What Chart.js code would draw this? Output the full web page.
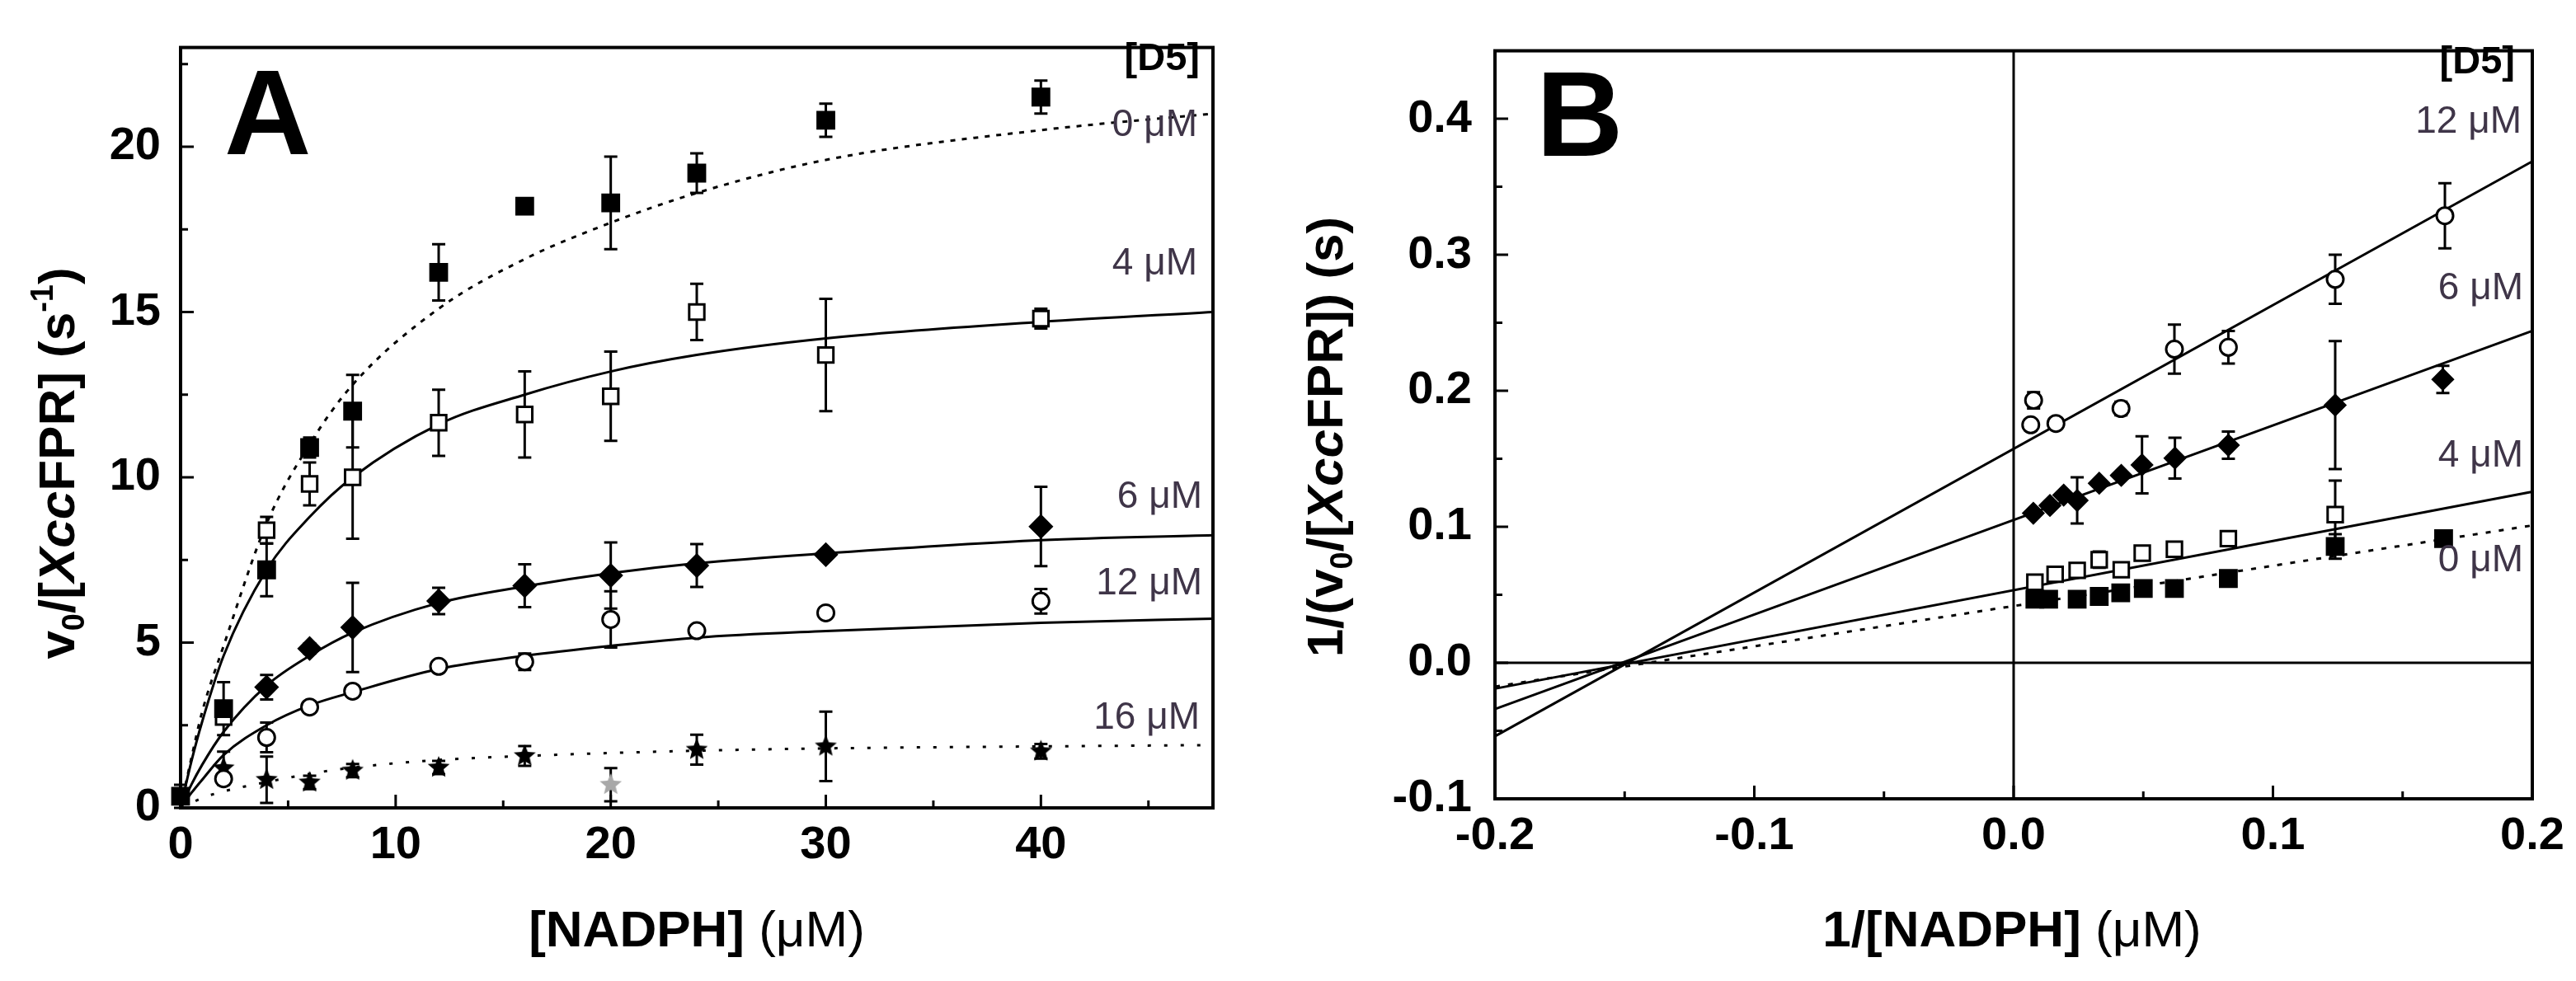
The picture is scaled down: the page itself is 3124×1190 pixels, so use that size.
<!DOCTYPE html>
<html><head><meta charset="utf-8">
<script src="https://cdn.jsdelivr.net/npm/chart.js@4.4.1/dist/chart.umd.min.js"></script>
<style>
html,body{margin:0;padding:0;background:#fff;}
#wrap{position:relative;width:3124px;height:1190px;overflow:hidden;background:#fff;}
canvas{position:absolute;top:0;}
#cA{left:0;} #cB{left:1540px;}
</style></head><body>
<div id="wrap"><canvas id="cA" width="1540" height="1190"></canvas><canvas id="cB" width="1584" height="1190"></canvas></div>
<script>
// ================= DATA =================
const seriesLabels = ['0 μM', '4 μM', '6 μM', '12 μM', '16 μM'];

// ---- Panel A : v0/[XccFPR] vs [NADPH] ----
const A_x0  = [0, 2, 4, 6, 8, 12, 16, 20, 24, 30, 40];
const A_y0  = [0.35, 3.0, 7.2, 10.9, 12.0, 16.2, 18.2, 18.3, 19.2, 20.8, 21.5];
const A_e0  = [0.35, 0.8, 0.8, 0.3, 1.1, 0.85, 0.15, 1.4, 0.6, 0.5, 0.5];

const A_x4  = [2, 4, 6, 8, 12, 16, 20, 24, 30, 40];
const A_y4  = [2.75, 8.4, 9.8, 10.0, 11.65, 11.9, 12.45, 15.0, 13.7, 14.8];
const A_e4  = [0.15, 0.4, 0.65, 1.86, 1.0, 1.3, 1.35, 0.85, 1.7, 0.3];

const A_x6  = [4, 6, 8, 12, 16, 20, 24, 30, 40];
const A_y6  = [3.65, 4.82, 5.46, 6.26, 6.72, 7.03, 7.33, 7.66, 8.51];
const A_e6  = [0.37, 0.15, 1.35, 0.4, 0.65, 1.0, 0.65, 0.12, 1.2];

const A_x12 = [2, 4, 6, 8, 12, 16, 20, 24, 30, 40];
const A_y12 = [0.88, 2.13, 3.05, 3.53, 4.28, 4.42, 5.7, 5.36, 5.9, 6.25];
const A_e12 = [0.12, 0.45, 0.12, 0.12, 0.15, 0.25, 0.85, 0.15, 0.12, 0.37];

const A_x16 = [2, 4, 6, 8, 12, 16, 24, 30, 40];
const A_y16 = [1.2, 0.85, 0.77, 1.13, 1.22, 1.57, 1.76, 1.86, 1.71];
const A_e16 = [0.5, 0.7, 0.2, 0.2, 0.2, 0.3, 0.45, 1.05, 0.22];

const A_x16grey = [20];
const A_y16grey = [0.7];
const A_e16grey = [0.5];

// fitted curves
const A_fitX   = [0, 0.5, 1, 2, 4, 6, 8, 12, 16, 20, 24, 30, 40, 48];
const A_fit0   = [0, 1.5, 2.9, 4.9, 8.6, 11.0, 12.8, 15.1, 16.6, 17.7, 18.6, 19.6, 20.5, 21.0];
const A_fit4   = [0, 1.4, 2.6, 4.6, 7.2, 8.8, 10.0, 11.6, 12.5, 13.2, 13.7, 14.2, 14.7, 15.0];
const A_fit6   = [0, 0.7, 1.3, 2.3, 3.7, 4.6, 5.3, 6.2, 6.7, 7.1, 7.4, 7.7, 8.1, 8.25];
const A_fit12  = [0, 0.45, 0.85, 1.6, 2.5, 3.1, 3.5, 4.2, 4.6, 4.9, 5.15, 5.35, 5.6, 5.72];
const A_fit16  = [0, 0.15, 0.3, 0.5, 0.78, 1.03, 1.22, 1.45, 1.57, 1.66, 1.73, 1.8, 1.86, 1.9];

// ---- Panel B : double reciprocal ----
const B_x0  = [0.0082, 0.0135, 0.0245, 0.033, 0.0413, 0.05, 0.062, 0.0828, 0.124, 0.1658];
const B_y0  = [0.0467, 0.0467, 0.0467, 0.0488, 0.0515, 0.0546, 0.0546, 0.062, 0.0855, 0.0913];
const B_e0  = [0.002, 0.002, 0.002, 0.002, 0.002, 0.002, 0.003, 0.003, 0.009, 0.002];

const B_x4  = [0.0082, 0.016, 0.0245, 0.033, 0.0415, 0.0496, 0.062, 0.0828, 0.124];
const B_y4  = [0.0593, 0.0651, 0.068, 0.0758, 0.0684, 0.0806, 0.0835, 0.0913, 0.109];
const B_e4  = [0.003, 0.002, 0.003, 0.006, 0.003, 0.003, 0.004, 0.003, 0.025];

const B_x6  = [0.0076, 0.014, 0.0193, 0.0245, 0.033, 0.0415, 0.0495, 0.0622, 0.0828, 0.124, 0.1655];
const B_y6  = [0.110, 0.1157, 0.1233, 0.1194, 0.132, 0.1378, 0.1455, 0.1505, 0.160, 0.1895, 0.2084];
const B_e6  = [0.002, 0.002, 0.002, 0.017, 0.002, 0.002, 0.021, 0.015, 0.010, 0.047, 0.010];

const B_x12 = [0.0066, 0.0077, 0.0163, 0.0414, 0.062, 0.0828, 0.124, 0.1663];
const B_y12 = [0.175, 0.193, 0.176, 0.187, 0.2306, 0.232, 0.282, 0.3287];
const B_e12 = [0.004, 0.006, 0.003, 0.005, 0.018, 0.012, 0.018, 0.024];

const B_fitX  = [-0.2, 0.2];
const B_fit0  = [-0.0175, 0.101];
const B_fit4  = [-0.019, 0.1258];
const B_fit6  = [-0.034, 0.244];
const B_fit12 = [-0.054, 0.3687];

// axis ranges / ticks
const A_xRange = [0, 48], A_xStep = 10;
const A_yRange = [0, 23], A_yStep = 5;
const B_xRange = [-0.2, 0.2], B_xStep = 0.1;
const B_yRange = [-0.1, 0.45], B_yStep = 0.1;

// ================= HELPERS =================
const FAM = '"Liberation Sans", Arial, Helvetica, sans-serif';
const pts = (xs, ys) => xs.map((x, i) => ({x, y: ys[i]}));

function makeStar(color, r) {
  const s = Math.ceil(r * 2) + 2;
  const c = document.createElement('canvas'); c.width = c.height = s;
  const g = c.getContext('2d'); g.fillStyle = color; g.beginPath();
  for (let i = 0; i < 10; i++) {
    const rr = i % 2 ? r * 0.45 : r;
    const a = -Math.PI / 2 + i * Math.PI / 5;
    g.lineTo(s / 2 + rr * Math.cos(a), s / 2 + rr * Math.sin(a));
  }
  g.closePath(); g.fill();
  return c;
}
const starBlack = makeStar('#000', 14);
const starGrey = makeStar('#a8a8a8', 14);

function markerDS(label, xs, ys, errs, style, fill, radius, extra) {
  return Object.assign({
    label, data: pts(xs, ys), errors: errs, showLine: false,
    pointStyle: style, pointRadius: radius, pointHoverRadius: radius,
    pointBackgroundColor: fill, pointBorderColor: '#000', pointBorderWidth: 3,
    clip: false, errColor: '#000'
  }, extra || {});
}
function lineDS(label, xs, ys, dash, curve) {
  return {
    label: label + ' fit', data: pts(xs, ys), showLine: true, pointRadius: 0,
    borderColor: '#000', borderWidth: 3, borderDash: dash || [],
    cubicInterpolationMode: curve ? 'monotone' : 'default', tension: 0, clip: false
  };
}

const errorBars = {
  id: 'errorBars',
  beforeDatasetsDraw(chart) {
    const {ctx, scales: {y}} = chart;
    ctx.save();
    ctx.lineWidth = 3;
    chart.data.datasets.forEach((ds, i) => {
      if (!ds.errors) return;
      const meta = chart.getDatasetMeta(i);
      ctx.strokeStyle = ds.errColor || '#000';
      meta.data.forEach((el, j) => {
        const v = ds.data[j].y, e = ds.errors[j];
        if (!e) return;
        const yt = y.getPixelForValue(v + e), yb = y.getPixelForValue(v - e);
        const x = el.x, w = 8;
        ctx.beginPath();
        ctx.moveTo(x, yt); ctx.lineTo(x, yb);
        ctx.moveTo(x - w, yt); ctx.lineTo(x + w, yt);
        ctx.moveTo(x - w, yb); ctx.lineTo(x + w, yb);
        ctx.stroke();
      });
    });
    ctx.restore();
  }
};

function frameTicks(zeroLines) {
  return {
    id: 'frameTicks',
    beforeDatasetsDraw(chart) {
      if (!zeroLines) return;
      const {ctx, chartArea: a, scales: {x, y}} = chart;
      ctx.save(); ctx.strokeStyle = '#000'; ctx.lineWidth = 3;
      const x0 = x.getPixelForValue(0), y0 = y.getPixelForValue(0);
      ctx.beginPath();
      ctx.moveTo(x0, a.top); ctx.lineTo(x0, a.bottom);
      ctx.moveTo(a.left, y0); ctx.lineTo(a.right, y0);
      ctx.stroke(); ctx.restore();
    },
    afterDatasetsDraw(chart) {
      const {ctx, chartArea: a, scales: {x, y}} = chart;
      ctx.save(); ctx.strokeStyle = '#000';
      ctx.lineWidth = 3;
      const tick = (scale, horiz) => {
        const vals = scale.ticks.map(t => t.value);
        const step = vals.length > 1 ? vals[1] - vals[0] : 1;
        const minors = [];
        for (let k = -1; k < vals.length; k++) {
          const m = (k < 0 ? vals[0] - step : vals[k]) + step / 2;
          if (m > scale.min + 1e-9 && m < scale.max - 1e-9) minors.push(m);
        }
        ctx.beginPath();
        vals.forEach(v => {
          const p = scale.getPixelForValue(v);
          if (horiz) { ctx.moveTo(p, a.bottom); ctx.lineTo(p, a.bottom - 16); }
          else { ctx.moveTo(a.left, p); ctx.lineTo(a.left + 16, p); }
        });
        minors.forEach(v => {
          const p = scale.getPixelForValue(v);
          if (horiz) { ctx.moveTo(p, a.bottom); ctx.lineTo(p, a.bottom - 9); }
          else { ctx.moveTo(a.left, p); ctx.lineTo(a.left + 9, p); }
        });
        ctx.stroke();
      };
      tick(x, true); tick(y, false);
      ctx.lineWidth = 4;
      ctx.strokeRect(a.left, a.top, a.right - a.left, a.bottom - a.top);
      ctx.restore();
    }
  };
}

function fontStr(p) {
  return `${p.italic ? 'italic ' : ''}${p.weight || 'bold'} ${p.size}px ${FAM}`;
}
function rich(ctx, parts, cx, cy, angle) {
  ctx.save();
  ctx.translate(cx, cy); ctx.rotate(angle || 0);
  let total = 0;
  parts.forEach(p => { ctx.font = fontStr(p); p.w = ctx.measureText(p.t).width; total += p.w; });
  let x = -total / 2;
  ctx.textAlign = 'left'; ctx.textBaseline = 'alphabetic'; ctx.fillStyle = '#000';
  parts.forEach(p => { ctx.font = fontStr(p); ctx.fillText(p.t, x, p.dy || 0); x += p.w; });
  ctx.restore();
}
function label(ctx, t, x, y, size, weight, color, align) {
  ctx.save();
  ctx.font = `${weight} ${size}px ${FAM}`; ctx.fillStyle = color;
  ctx.textAlign = align || 'right'; ctx.textBaseline = 'middle';
  ctx.fillText(t, x, y); ctx.restore();
}

const TF = {family: FAM, size: 56, weight: 'bold'};
function axis(range, step, fixed, size, pad, dec) {
  return {
    type: 'linear', min: range[0], max: range[1],
    grid: {display: false, drawTicks: false}, border: {display: false},
    ticks: {
      stepSize: step, includeBounds: false, autoSkip: false, maxRotation: 0,
      color: '#000', font: TF, padding: pad,
      callback: v => dec ? Number(v).toFixed(dec) : String(Math.round(v))
    },
    afterFit: s => { if (fixed === 'w') s.width = size; else s.height = size; }
  };
}

const LBL = '#3f3548';
const T = 62;

// ================= PANEL A =================
const titlesA = {
  id: 'titlesA',
  afterDraw(chart) {
    const ctx = chart.ctx;
    rich(ctx, [
      {t: 'v', size: T}, {t: '0', size: 38, dy: 12}, {t: '/[', size: T},
      {t: 'Xcc', size: T, italic: true}, {t: 'FPR] (s', size: T},
      {t: '-1', size: 38, dy: -26}, {t: ')', size: T}
    ], 90, 562, -Math.PI / 2);
    rich(ctx, [{t: '[NADPH] ', size: T}, {t: '(μM)', size: T, weight: 'normal'}], 845, 1148, 0);
    label(ctx, 'A', 272, 147, 146, 'bold', '#000', 'left');
    label(ctx, '[D5]', 1455, 72, 47, 'bold', '#000');
    label(ctx, seriesLabels[0], 1452, 152, 46, 'normal', LBL);
    label(ctx, seriesLabels[1], 1452, 320, 46, 'normal', LBL);
    label(ctx, seriesLabels[2], 1458, 603, 46, 'normal', LBL);
    label(ctx, seriesLabels[3], 1458, 708, 46, 'normal', LBL);
    label(ctx, seriesLabels[4], 1455, 871, 46, 'normal', LBL);
  }
};

new Chart(document.getElementById('cA'), {
  type: 'scatter',
  data: {
    datasets: [
      markerDS(seriesLabels[0], A_x0, A_y0, A_e0, 'rect', '#000', 14),
      markerDS(seriesLabels[1], A_x4, A_y4, A_e4, 'rect', '#fff', 13),
      markerDS(seriesLabels[2], A_x6, A_y6, A_e6, 'rectRot', '#000', 13),
      markerDS(seriesLabels[3], A_x12, A_y12, A_e12, 'circle', '#fff', 10),
      markerDS(seriesLabels[4], A_x16, A_y16, A_e16, starBlack, '#000', 13),
      markerDS(seriesLabels[4] + ' (grey)', A_x16grey, A_y16grey, A_e16grey, starGrey, '#a8a8a8', 13),
      lineDS(seriesLabels[0], A_fitX, A_fit0, [6, 8], true),
      lineDS(seriesLabels[1], A_fitX, A_fit4, [], true),
      lineDS(seriesLabels[2], A_fitX, A_fit6, [], true),
      lineDS(seriesLabels[3], A_fitX, A_fit12, [], true),
      lineDS(seriesLabels[4], A_fitX, A_fit16, [4, 16], true)
    ]
  },
  options: {
    responsive: false, animation: false, devicePixelRatio: 1,
    layout: {padding: {top: 25, right: 69, left: 0, bottom: 0}},
    plugins: {legend: {display: false}, tooltip: {enabled: false}},
    scales: {
      x: axis(A_xRange, A_xStep, 'h', 210, 12, 0),
      y: axis(A_yRange, A_yStep, 'w', 219, 24, 0)
    }
  },
  plugins: [errorBars, frameTicks(false), titlesA]
});

// ================= PANEL B =================
const titlesB = {
  id: 'titlesB',
  afterDraw(chart) {
    const ctx = chart.ctx;
    rich(ctx, [
      {t: '1/(v', size: T}, {t: '0', size: 38, dy: 12}, {t: '/[', size: T},
      {t: 'Xcc', size: T, italic: true}, {t: 'FPR]) (s)', size: T}
    ], 1628 - 1540, 530, -Math.PI / 2);
    rich(ctx, [{t: '1/[NADPH] ', size: T}, {t: '(μM)', size: T, weight: 'normal'}], 2440 - 1540, 1148, 0);
    label(ctx, 'B', 1863 - 1540, 149, 146, 'bold', '#000', 'left');
    label(ctx, '[D5]', 3050 - 1540, 76, 47, 'bold', '#000');
    label(ctx, seriesLabels[3], 3058 - 1540, 148, 46, 'normal', LBL);
    label(ctx, seriesLabels[2], 3060 - 1540, 350, 46, 'normal', LBL);
    label(ctx, seriesLabels[1], 3060 - 1540, 553, 46, 'normal', LBL);
    label(ctx, seriesLabels[0], 3060 - 1540, 680, 46, 'normal', LBL);
  }
};

new Chart(document.getElementById('cB'), {
  type: 'scatter',
  data: {
    datasets: [
      markerDS(seriesLabels[0], B_x0, B_y0, B_e0, 'rect', '#000', 14),
      markerDS(seriesLabels[1], B_x4, B_y4, B_e4, 'rect', '#fff', 13),
      markerDS(seriesLabels[2], B_x6, B_y6, B_e6, 'rectRot', '#000', 12),
      markerDS(seriesLabels[3], B_x12, B_y12, B_e12, 'circle', '#fff', 10),
      lineDS(seriesLabels[0], B_fitX, B_fit0, [6, 10], false),
      lineDS(seriesLabels[1], B_fitX, B_fit4, [], false),
      lineDS(seriesLabels[2], B_fitX, B_fit6, [], false),
      lineDS(seriesLabels[3], B_fitX, B_fit12, [], false)
    ]
  },
  options: {
    responsive: false, animation: false, devicePixelRatio: 1,
    layout: {padding: {top: 26, right: 53, left: 0, bottom: 0}},
    plugins: {legend: {display: false}, tooltip: {enabled: false}},
    scales: {
      x: axis(B_xRange, B_xStep, 'h', 221, 12, 1),
      y: axis(B_yRange, B_yStep, 'w', 273, 28, 1)
    }
  },
  plugins: [errorBars, frameTicks(true), titlesB]
});
</script>
</body></html>
